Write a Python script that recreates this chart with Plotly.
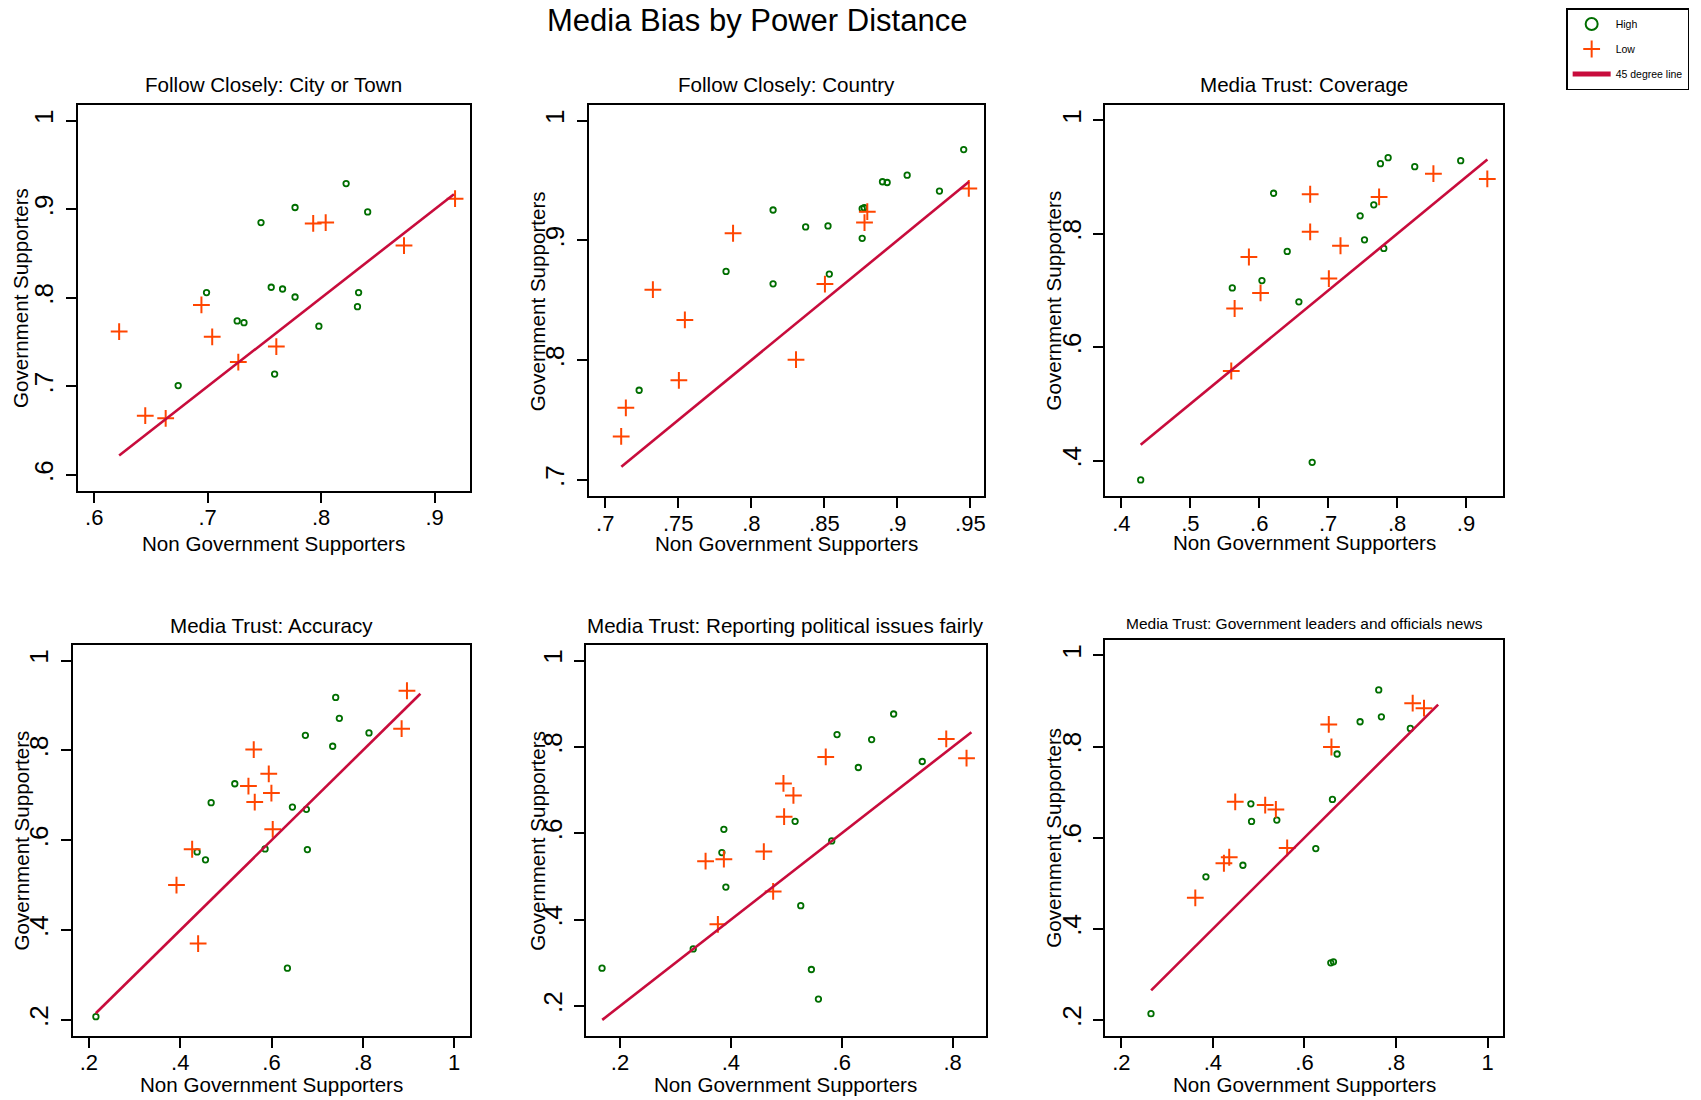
import plotly.graph_objects as go

# The page body has an 8px margin, so the figure is drawn 8px smaller and shifted.
OFF = 8
W, H = 1701 - OFF, 1100 - OFF

# ---------------- data ----------------
panel_titles = [
    "Follow Closely: City or Town",
    "Follow Closely: Country",
    "Media Trust: Coverage",
    "Media Trust: Accuracy",
    "Media Trust: Reporting political issues fairly",
    "Media Trust: Government leaders and officials news",
]

# Panel 1: Follow Closely: City or Town
p1_high_x = [0.674, 0.699, 0.726, 0.732, 0.747, 0.756, 0.766, 0.759, 0.777, 0.777, 0.798, 0.822, 0.833, 0.832, 0.841]
p1_high_y = [0.701, 0.806, 0.774, 0.772, 0.885, 0.812, 0.810, 0.714, 0.902, 0.801, 0.768, 0.929, 0.806, 0.790, 0.897]
p1_low_x = [0.622, 0.645, 0.663, 0.6945, 0.704, 0.727, 0.7605, 0.793, 0.804, 0.873, 0.918]
p1_low_y = [0.762, 0.667, 0.664, 0.792, 0.756, 0.7275, 0.745, 0.884, 0.885, 0.859, 0.912]
p1_line = [0.622, 0.917]

# Panel 2: Follow Closely: Country
p2_high_x = [0.7232, 0.7827, 0.8149, 0.8149, 0.8372, 0.8525, 0.8534, 0.8759, 0.8759, 0.8773, 0.8898, 0.8930, 0.9067, 0.9288, 0.9454]
p2_high_y = [0.7749, 0.8741, 0.9254, 0.8638, 0.9113, 0.9121, 0.8719, 0.9018, 0.9265, 0.9273, 0.9490, 0.9484, 0.9545, 0.9412, 0.9759]
p2_low_x = [0.7109, 0.7141, 0.7326, 0.7504, 0.7545, 0.7875, 0.8306, 0.8504, 0.8775, 0.8794, 0.9489]
p2_low_y = [0.7363, 0.7602, 0.8589, 0.7832, 0.8336, 0.9060, 0.8004, 0.8636, 0.9149, 0.9240, 0.9434]
p2_line = [0.711, 0.949]

# Panel 3: Media Trust: Coverage
p3_high_x = [0.428, 0.5609, 0.6039, 0.6208, 0.6406, 0.6575, 0.6768, 0.7464, 0.7527, 0.7662, 0.7758, 0.787, 0.7807, 0.8256, 0.8923]
p3_high_y = [0.366, 0.7047, 0.7176, 0.8717, 0.7691, 0.6801, 0.3971, 0.8318, 0.7896, 0.8512, 0.9238, 0.9344, 0.7744, 0.9185, 0.9291]
p3_low_x = [0.5594, 0.5643, 0.585, 0.6019, 0.6739, 0.6739, 0.701, 0.7179, 0.7739, 0.8527, 0.9309]
p3_low_y = [0.5582, 0.6684, 0.7592, 0.6959, 0.8699, 0.8037, 0.7211, 0.7791, 0.8652, 0.9062, 0.8969]
p3_line = [0.428, 0.931]

# Panel 4: Media Trust: Accuracy
p4_high_x = [0.2153, 0.437, 0.4553, 0.4677, 0.5195, 0.5858, 0.6347, 0.6457, 0.6741, 0.6763, 0.6785, 0.7339, 0.7405, 0.7485, 0.8134]
p4_high_y = [0.2074, 0.5741, 0.5564, 0.6836, 0.7257, 0.5808, 0.3153, 0.6739, 0.8336, 0.6688, 0.5793, 0.8092, 0.9179, 0.8714, 0.8388]
p4_low_x = [0.3918, 0.4261, 0.4392, 0.5494, 0.561, 0.5632, 0.5939, 0.5997, 0.6026, 0.8849, 0.8966]
p4_low_y = [0.5002, 0.58, 0.3701, 0.7205, 0.8018, 0.685, 0.7479, 0.705, 0.6244, 0.8484, 0.9327]
p4_line = [0.215, 0.926]

# Panel 5: Media Trust: Reporting political issues fairly
p5_high_x = [0.1676, 0.3321, 0.3838, 0.3874, 0.391, 0.5159, 0.5261, 0.5453, 0.558, 0.582, 0.5916, 0.63, 0.654, 0.6937, 0.7453]
p5_high_y = [0.2877, 0.3323, 0.5554, 0.6092, 0.4754, 0.6277, 0.4323, 0.2846, 0.2162, 0.5823, 0.8285, 0.7523, 0.8169, 0.8762, 0.7662]
p5_low_x = [0.3544, 0.3766, 0.3874, 0.4595, 0.4763, 0.4949, 0.4961, 0.5129, 0.5712, 0.7886, 0.8252]
p5_low_y = [0.5354, 0.3892, 0.54, 0.5577, 0.4654, 0.7154, 0.6385, 0.6877, 0.7769, 0.8185, 0.7738]
p5_line = [0.168, 0.834]

# Panel 6: Media Trust: Government leaders and officials news
p6_high_x = [0.2647, 0.3847, 0.4655, 0.4829, 0.4844, 0.5396, 0.6247, 0.6575, 0.6633, 0.6611, 0.6713, 0.7215, 0.7622, 0.768, 0.8313]
p6_high_y = [0.2138, 0.514, 0.5395, 0.6743, 0.6357, 0.6386, 0.576, 0.3253, 0.3275, 0.6838, 0.7836, 0.8543, 0.9242, 0.8652, 0.8397]
p6_low_x = [0.3615, 0.424, 0.4356, 0.4487, 0.5142, 0.5375, 0.5622, 0.6531, 0.6589, 0.8364, 0.8611]
p6_low_y = [0.4681, 0.5439, 0.557, 0.6787, 0.6714, 0.6619, 0.5774, 0.8485, 0.7989, 0.8951, 0.8842]
p6_line = [0.265, 0.892]

# tick values / labels
p1_xticks = [0.6, 0.7, 0.8, 0.9]
p1_xlabels = [".6", ".7", ".8", ".9"]
p1_yticks = [0.6, 0.7, 0.8, 0.9, 1.0]
p1_ylabels = [".6", ".7", ".8", ".9", "1"]
p2_xticks = [0.7, 0.75, 0.8, 0.85, 0.9, 0.95]
p2_xlabels = [".7", ".75", ".8", ".85", ".9", ".95"]
p2_yticks = [0.7, 0.8, 0.9, 1.0]
p2_ylabels = [".7", ".8", ".9", "1"]
p3_xticks = [0.4, 0.5, 0.6, 0.7, 0.8, 0.9]
p3_xlabels = [".4", ".5", ".6", ".7", ".8", ".9"]
p3_yticks = [0.4, 0.6, 0.8, 1.0]
p3_ylabels = [".4", ".6", ".8", "1"]
p4_xticks = [0.2, 0.4, 0.6, 0.8, 1.0]
p4_xlabels = [".2", ".4", ".6", ".8", "1"]
p4_yticks = [0.2, 0.4, 0.6, 0.8, 1.0]
p4_ylabels = [".2", ".4", ".6", ".8", "1"]
p5_xticks = [0.2, 0.4, 0.6, 0.8]
p5_xlabels = [".2", ".4", ".6", ".8"]
p5_yticks = [0.2, 0.4, 0.6, 0.8, 1.0]
p5_ylabels = [".2", ".4", ".6", ".8", "1"]
p6_xticks = [0.2, 0.4, 0.6, 0.8, 1.0]
p6_xlabels = [".2", ".4", ".6", ".8", "1"]
p6_yticks = [0.2, 0.4, 0.6, 0.8, 1.0]
p6_ylabels = [".2", ".4", ".6", ".8", "1"]

legend_names = ["High", "Low", "45 degree line"]
x_title = "Non Government Supporters"
y_title = "Government Supporters"
main_title = "Media Bias by Power Distance"

# ---------------- layout (pixel geometry, in window pixels) ----------------
layout_specs = [
    dict(box=(77.7, 470.7, 101.7, 488.3), xr=(0.5854, 0.9313), yr=(0.5825, 1.0173), tty=81, xty=541, ytx=21, tfs=20.6),
    dict(box=(589.3, 985.0, 101.7, 494.0), xr=(0.6886, 0.9592), yr=(0.6864, 1.0128), tty=81, xty=541, ytx=538, tfs=20.6),
    dict(box=(1106.7, 1505.0, 101.7, 494.0), xr=(0.3768, 0.9540), yr=(0.3373, 1.0267), tty=81, xty=540, ytx=1055, tfs=20.6),
    dict(box=(72.7, 470.7, 643.3, 1035.7), xr=(0.1643, 1.0350), yr=(0.1645, 1.0346), tty=624, xty=1084, ytx=21, tfs=20.6),
    dict(box=(586.7, 986.7, 643.3, 1035.7), xr=(0.1387, 0.8595), yr=(0.1308, 1.0360), tty=624, xty=1084, ytx=538, tfs=20.6),
    dict(box=(1106.7, 1505.0, 638.3, 1035.7), xr=(0.1651, 1.0342), yr=(0.1650, 1.0337), tty=622, xty=1084, ytx=1055, tfs=15.5),
]

panels_data = [
    (p1_high_x, p1_high_y, p1_low_x, p1_low_y, p1_line, p1_xticks, p1_xlabels, p1_yticks, p1_ylabels),
    (p2_high_x, p2_high_y, p2_low_x, p2_low_y, p2_line, p2_xticks, p2_xlabels, p2_yticks, p2_ylabels),
    (p3_high_x, p3_high_y, p3_low_x, p3_low_y, p3_line, p3_xticks, p3_xlabels, p3_yticks, p3_ylabels),
    (p4_high_x, p4_high_y, p4_low_x, p4_low_y, p4_line, p4_xticks, p4_xlabels, p4_yticks, p4_ylabels),
    (p5_high_x, p5_high_y, p5_low_x, p5_low_y, p5_line, p5_xticks, p5_xlabels, p5_yticks, p5_ylabels),
    (p6_high_x, p6_high_y, p6_low_x, p6_low_y, p6_line, p6_xticks, p6_xlabels, p6_yticks, p6_ylabels),
]

GREEN = "rgb(0,110,0)"
ORANGE = "rgb(255,69,0)"
LINE = "rgb(200,12,60)"
FONT = "Liberation Sans, Arial, sans-serif"

def px(x):
    return (x - OFF) / W

def py(y):
    return 1 - (y - OFF) / H

fig = go.Figure()
annotations = []
layout_axes = {}

for i, (spec, d) in enumerate(zip(layout_specs, panels_data)):
    hx, hy, lx, ly, ln, xt, xl, yt, yl = d
    n = i + 1
    xa = "x" if n == 1 else f"x{n}"
    ya = "y" if n == 1 else f"y{n}"
    show = (i == 0)
    fig.add_trace(go.Scatter(
        x=hx, y=hy, mode="markers", name=legend_names[0], xaxis=xa, yaxis=ya,
        marker=dict(symbol="circle-open", size=5.5, color=GREEN, line=dict(width=1.8, color=GREEN)),
        showlegend=show, legendgroup="a_high"))
    fig.add_trace(go.Scatter(
        x=lx, y=ly, mode="markers", name=legend_names[1], xaxis=xa, yaxis=ya,
        marker=dict(symbol="cross-thin-open", size=12, color=ORANGE, line=dict(width=2, color=ORANGE)),
        showlegend=show, legendgroup="b_low"))
    fig.add_trace(go.Scatter(
        x=ln, y=ln, mode="lines", name=legend_names[2], xaxis=xa, yaxis=ya,
        line=dict(color=LINE, width=2.6),
        showlegend=show, legendgroup="c_line"))

    l, r, t, b = spec["box"]
    axis_common = dict(
        showgrid=False, zeroline=False, showline=True, linecolor="black", linewidth=2,
        mirror=True, ticks="outside", ticklen=10, tickwidth=1.5, tickcolor="black",
        tickmode="array",
    )
    layout_axes["xaxis" if n == 1 else f"xaxis{n}"] = dict(
        axis_common, domain=[px(l), px(r)], range=list(spec["xr"]),
        tickvals=xt, ticktext=xl, anchor=ya, ticklabelstandoff=-4,
        tickfont=dict(family=FONT, size=22, color="black"))
    layout_axes["yaxis" if n == 1 else f"yaxis{n}"] = dict(
        axis_common, domain=[py(b), py(t)], range=list(spec["yr"]),
        tickvals=yt, ticktext=yl, anchor=xa, tickangle=-90, ticklabelstandoff=2,
        tickfont=dict(family=FONT, size=26, color="black"))

    cx = (l + r) / 2
    cy = (t + b) / 2
    annotations.append(dict(text=panel_titles[i], x=px(cx), y=py(spec["tty"]), xref="paper", yref="paper",
                            xanchor="center", yanchor="middle", showarrow=False,
                            font=dict(family=FONT, size=spec["tfs"], color="black")))
    annotations.append(dict(text=x_title, x=px(cx), y=py(spec["xty"]), xref="paper", yref="paper",
                            xanchor="center", yanchor="middle", showarrow=False,
                            font=dict(family=FONT, size=20.6, color="black")))
    annotations.append(dict(text=y_title, x=px(spec["ytx"]), y=py(cy), xref="paper", yref="paper",
                            xanchor="center", yanchor="middle", showarrow=False, textangle=-90,
                            font=dict(family=FONT, size=20.6, color="black")))

annotations.append(dict(text=main_title, x=px(758), y=py(17), xref="paper", yref="paper",
                        xanchor="center", yanchor="middle", showarrow=False,
                        font=dict(family=FONT, size=31, color="black")))

fig.update_layout(
    width=W, height=H, margin=dict(l=0, r=0, t=0, b=0),
    paper_bgcolor="white", plot_bgcolor="white",
    font=dict(family=FONT, color="black"),
    annotations=annotations,
    showlegend=True,
    legend=dict(x=px(1568), y=py(4), xanchor="left", yanchor="top",
                bordercolor="black", borderwidth=1.5, bgcolor="white",
                font=dict(family=FONT, size=10.5, color="black"),
                itemsizing="constant", itemwidth=38, tracegroupgap=6, traceorder="grouped"),
    **layout_axes,
)

fig.write_html("out.html")
